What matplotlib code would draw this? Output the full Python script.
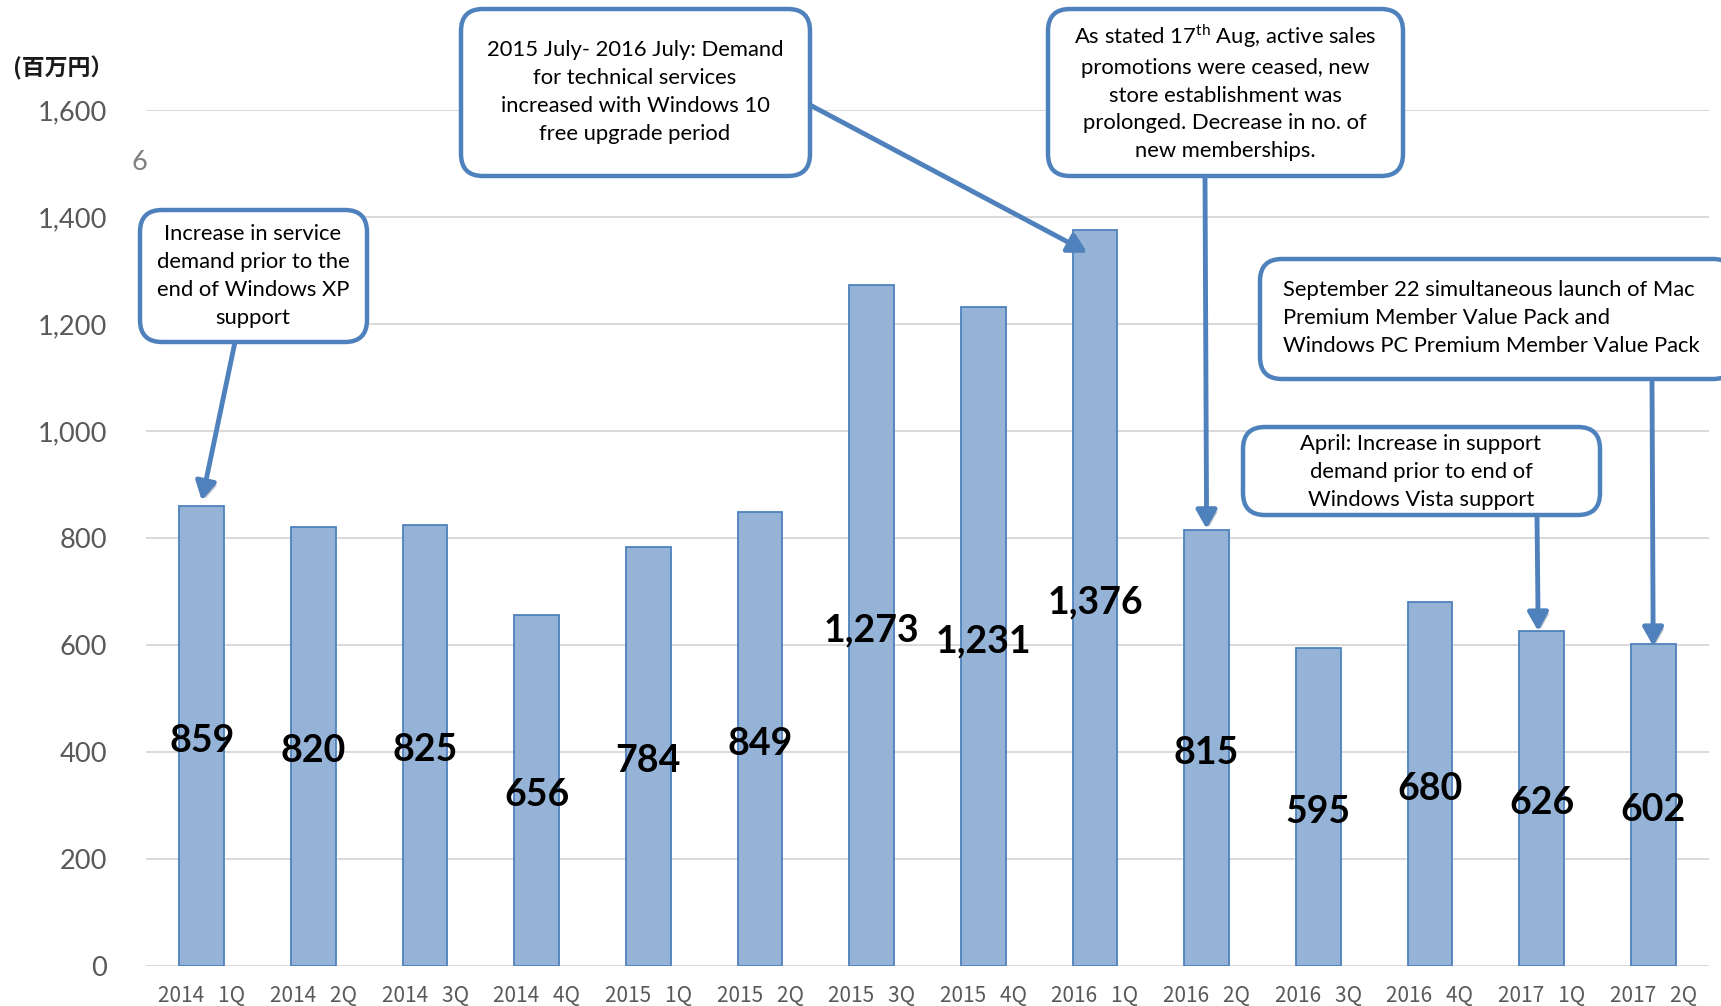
import matplotlib
matplotlib.use("Agg")
import matplotlib.pyplot as plt
import matplotlib.patheffects as pe
from matplotlib.patches import FancyBboxPatch

plt.rcParams['font.family'] = ['Lato', 'Noto Sans CJK JP', 'DejaVu Sans']
plt.rcParams['mathtext.fontset'] = 'custom'
plt.rcParams['mathtext.rm'] = 'Lato'

# data
years = ['2014', '2014', '2014', '2014', '2015', '2015', '2015', '2015',
         '2016', '2016', '2016', '2016', '2017', '2017']
quarters = ['1Q', '2Q', '3Q', '4Q', '1Q', '2Q', '3Q', '4Q',
            '1Q', '2Q', '3Q', '4Q', '1Q', '2Q']
sales = [859, 820, 825, 656, 784, 849, 1273, 1231, 1376, 815, 595, 680, 626, 602]
yticks = [0, 200, 400, 600, 800, 1000, 1200, 1400, 1600]

notes = [
    'Increase in service\ndemand prior to the\nend of Windows XP\nsupport',
    '2015 July- 2016 July: Demand\nfor technical services\nincreased with Windows 10\nfree upgrade period',
    'As stated 17$^{\\mathrm{th}}$ Aug, active sales\npromotions were ceased, new\n'
    'store establishment was\nprolonged. Decrease in no. of\nnew memberships.',
    'September 22 simultaneous launch of Mac\nPremium Member Value Pack and\n'
    'Windows PC Premium Member Value Pack',
    'April: Increase in support\ndemand prior to end of\nWindows Vista support',
]
note_bar = [0, 8, 9, 13, 12]

W, H = 1721, 1006
blue = '#4F81BD'
fill = '#95B3D7'
grey = '#595959'

fig = plt.figure(figsize=(W / 100, H / 100), dpi=100)
ax = fig.add_axes([146 / W, 1 - 966 / H, (1709 - 146) / W, (966 - 110) / H])

x = list(range(len(sales)))
ax.bar(x, sales, width=0.4, color=fill, edgecolor=blue, linewidth=1.3, zorder=3)
for i, v in zip(x, sales):
    ax.text(i, v / 2 - 9, f'{v:,}', ha='center', va='center', fontsize=27,
            fontweight='bold', color='black', zorder=4)

ax.set_xlim(-0.5, len(sales) - 0.5)
ax.set_ylim(0, 1600)
ax.set_yticks(yticks)
ax.set_yticklabels([f'{t:,}' for t in yticks], fontsize=19.6, color=grey)
ax.set_xticks(x)
ax.set_xticklabels([f'{y}   {q}' for y, q in zip(years, quarters)],
                   fontsize=15, color=grey, family='Noto Sans CJK JP')
ax.tick_params(axis='y', length=0, pad=28)
ax.tick_params(axis='x', length=0, pad=14)
ax.grid(axis='y', color='#D9D9D9', linewidth=1.4, zorder=0)
ax.set_axisbelow(True)
for s in ax.spines.values():
    s.set_visible(False)

# overlay in pixel units for the callouts
ov = fig.add_axes([0, 0, 1, 1])
ov.set_xlim(0, W)
ov.set_ylim(H, 0)
ov.axis('off')
ov.patch.set_alpha(0)

fig.text(13 / W, 1 - 68 / H, '(百万円）', fontsize=16.5, family='Noto Sans CJK JP',
         fontweight='bold', ha='left', va='center', color='#1a1a1a')
fig.text(139 / W, 1 - 163 / H, '6', fontsize=19.6, color='#7f7f7f',
         ha='center', va='center')

boxes = [(140, 210, 367, 342), (461, 9, 810, 176), (1048, 9, 1403, 176),
         (1260, 259, 1735, 379), (1243, 427, 1600, 515)]
starts = [(235, 342), (810, 105), (1205, 176), (1652, 379), (1537, 515)]
tip_dx = [0.0, -0.07, 0.0, 0.0, -0.03]
tip_dy = [11, -42, 2, -4, 0]
text_pos = [(253, 276, 'center'), (635, 92, 'center'), (1225, 92, 'center'),
            (1283, 318, 'left'), (1421, 472, 'center')]

shadow = [pe.SimplePatchShadow(offset=(2, -2), alpha=0.25), pe.Normal()]
for k in range(len(notes)):
    b = note_bar[k]
    ov.annotate('', xy=(b + tip_dx[k], sales[b] + tip_dy[k]), xycoords=ax.transData,
                xytext=starts[k], textcoords='data',
                arrowprops=dict(arrowstyle='-|>,head_length=0.5,head_width=0.28',
                                color=blue, lw=3.5, mutation_scale=22,
                                shrinkA=0, shrinkB=0, path_effects=shadow),
                zorder=5)
    x0, y0, x1, y1 = boxes[k]
    ov.add_patch(FancyBboxPatch((x0, y0), x1 - x0, y1 - y0,
                                boxstyle='round,pad=0,rounding_size=22',
                                facecolor='white', edgecolor=blue, lw=3.2,
                                zorder=6, clip_on=False))
    tx, ty, ha = text_pos[k]
    ov.text(tx, ty, notes[k], ha=ha, va='center', multialignment=ha,
            fontsize=15.8, color='black', linespacing=1.48, zorder=7)

fig.savefig('out.png', dpi=100)
